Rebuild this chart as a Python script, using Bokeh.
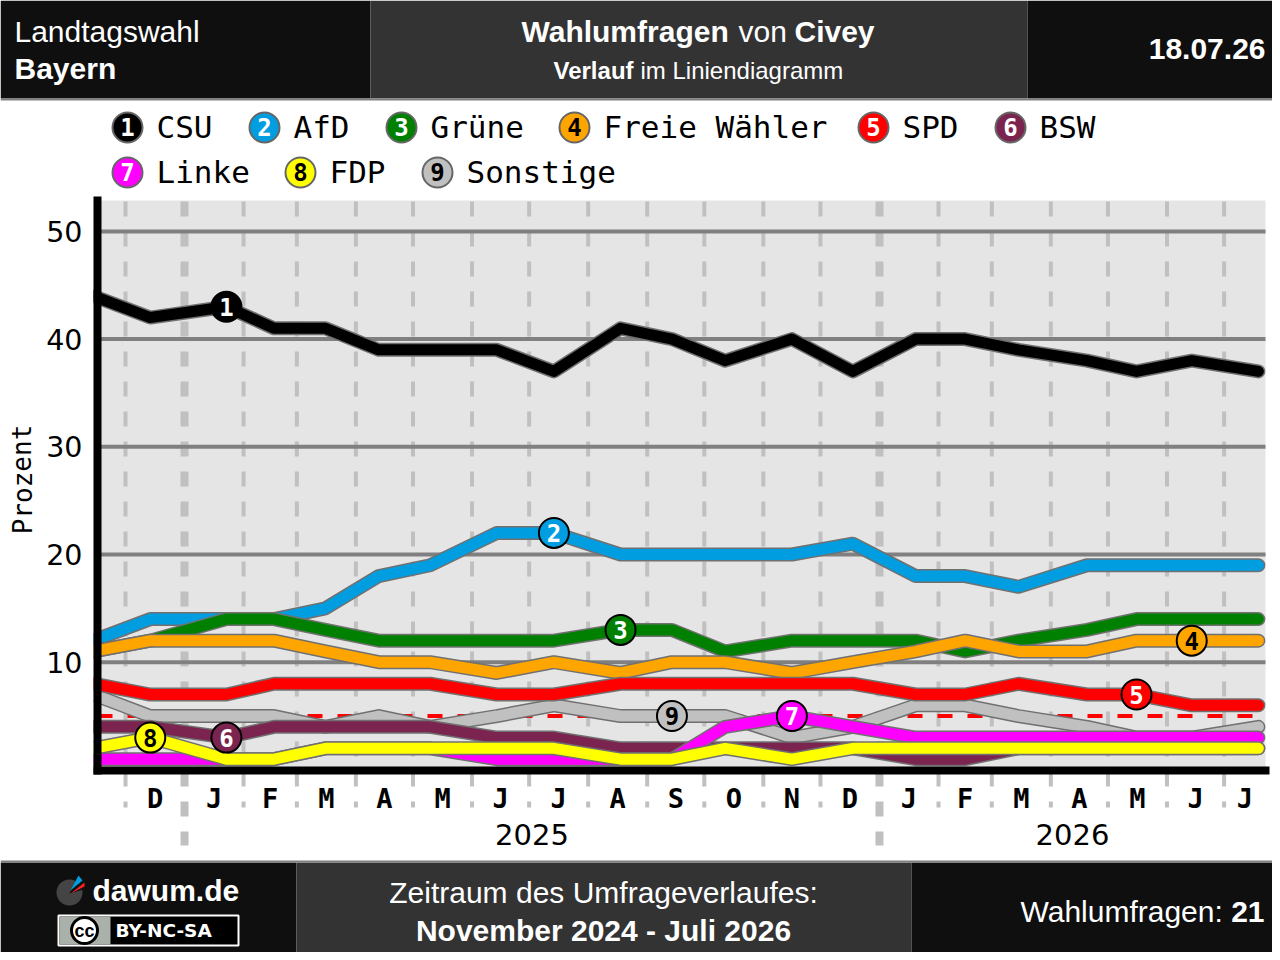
import pandas as pd
from bokeh.core.properties import value
from bokeh.embed import file_html
from bokeh.models import FixedTicker, LinearAxis, Range1d
from bokeh.plotting import figure
from bokeh.resources import INLINE

# ---------- data ----------
poll_dates = ["2024-11-14", "2024-12-14", "2025-01-23", "2025-02-17", "2025-03-16", "2025-04-13", "2025-05-10",
              "2025-06-14", "2025-07-14", "2025-08-18", "2025-09-14", "2025-10-12", "2025-11-16", "2025-12-18",
              "2026-01-20", "2026-02-15", "2026-03-15", "2026-04-20", "2026-05-16", "2026-06-14", "2026-07-19"]
csu =      [44, 42, 43, 41, 41, 39, 39, 39, 37, 41, 40, 38, 40, 37, 40, 40, 39, 38, 37, 38, 37]
afd =      [12, 14, 14, 14, 15, 18, 19, 22, 22, 20, 20, 20, 20, 21, 18, 18, 17, 19, 19, 19, 19]
gruene =   [11, 12, 14, 14, 13, 12, 12, 12, 12, 13, 13, 11, 12, 12, 12, 11, 12, 13, 14, 14, 14]
fw =       [11, 12, 12, 12, 11, 10, 10, 9, 10, 9, 10, 10, 9, 10, 11, 12, 11, 11, 12, 12, 12]
spd =      [8, 7, 7, 8, 8, 8, 8, 7, 7, 8, 8, 8, 8, 8, 7, 7, 8, 7, 7, 6, 6]
bsw =      [4, 4, 3, 4, 4, 4, 4, 3, 3, 2, 2, 2, 2, 2, 1, 1, 2, 2, 2, 2, 2]
linke =    [1, 1, 1, 1, 2, 2, 2, 1, 1, 1, 1, 4, 5, 4, 3, 3, 3, 3, 3, 3, 3]
fdp =      [2, 3, 1, 1, 2, 2, 2, 2, 2, 1, 1, 2, 1, 2, 2, 2, 2, 2, 2, 2, 2]
sonstige = [7, 5, 5, 5, 4, 5, 4, 5, 6, 5, 5, 5, 3, 4, 6, 6, 5, 4, 3, 3, 4]

party_names = ["CSU", "AfD", "Grüne", "Freie Wähler", "SPD", "BSW", "Linke", "FDP", "Sonstige"]
party_values = [csu, afd, gruene, fw, spd, bsw, linke, fdp, sonstige]
party_colors = ["#000000", "#009EE0", "#008000", "#FFA500", "#FF0000", "#7B2450", "#FF00FF", "#FFFF00", "#C0C0C0"]
badge_text = ["white", "white", "white", "black", "white", "white", "white", "black", "black"]
badge_poll = [2, 8, 9, 19, 18, 2, 12, 1, 10]
month_labels = ["D", "J", "F", "M", "A", "M", "J", "J", "A", "S", "O", "N", "D", "J", "F", "M", "A", "M", "J", "J"]
year_labels = ["2025", "2026"]
y_ticks = [10, 20, 30, 40, 50]
threshold = 5

# ---------- layout constants (picture pixels) ----------
W, H = 1272, 952
PAGE_L, PAGE_T = 0, 0
PAGE_R, PAGE_B = PAGE_L + W, PAGE_T + H
MONO = "DejaVu Sans Mono"
SANS = "Liberation Sans"
GREY = "#808080"
DARK = "#0F0F0F"
MID = "#333333"
PX_PER_DAY, PX_DEC1 = 1.904, 125.0
PX_PER_PCT, PX_ZERO = 10.77, 769.4
PLOT_L, PLOT_R, PLOT_T, AXIS_B = 97, 1265, 200, 770

def day(px):
    return (px - PX_DEC1) / PX_PER_DAY

def pct(py):
    return (PX_ZERO - py) / PX_PER_PCT

p = figure(width=W, height=H, output_backend="svg", toolbar_location=None,
           x_range=Range1d(day(PAGE_L), day(PAGE_R)), y_range=Range1d(pct(PAGE_B), pct(PAGE_T)),
           x_axis_location=None, y_axis_location=None, min_border=0, min_border_left=0, min_border_right=0,
           min_border_top=0, min_border_bottom=0, outline_line_color=None,
           background_fill_color="white", border_fill_color="white")
p.grid.visible = False
p.extra_x_ranges["page"] = Range1d(PAGE_L, PAGE_R)
p.extra_y_ranges["page"] = Range1d(PAGE_B, PAGE_T)
PG = dict(x_range_name="page", y_range_name="page")

def txt(x, y, s, size, color="white", bold=False, align="left", font=SANS):
    if align != "right":
        x -= 1
    return p.text([x], [y - 1], text=[s], text_font=value(font), text_font_size=f"{size}px", text_color=color,
                  text_font_style="bold" if bold else "normal", text_align=align, text_baseline="middle", **PG)

# ---------- chart ----------
origin = pd.Timestamp("2024-12-01")
poll_x = [(pd.Timestamp(d) - origin).days for d in poll_dates]
month_start = [(d - origin).days for d in pd.date_range("2024-12-01", "2026-07-01", freq="MS")]
year_start = [(pd.Timestamp(d) - origin).days for d in ("2025-01-01", "2026-01-01")]
plain_months = [m for m in month_start if m not in year_start]
bounds_next = month_start[1:] + [day(PLOT_R)]
month_mid = [(a + b) / 2 for a, b in zip(month_start, bounds_next)]
year_mid = [(year_start[0] + year_start[1]) / 2, (year_start[1] + day(PLOT_R)) / 2]

p.quad(left=[PLOT_L], right=[PLOT_R], bottom=[AXIS_B], top=[PLOT_T], fill_color="#E5E5E5", line_color=None, **PG)
p.segment(x0=plain_months, x1=plain_months, y0=[pct(201)] * len(plain_months), y1=[pct(807)] * len(plain_months),
          line_color="#C0C0C0", line_width=4, line_dash="15 15")
p.segment(x0=year_start, x1=year_start, y0=[pct(201)] * 2, y1=[pct(845)] * 2,
          line_color="#C0C0C0", line_width=8, line_dash="15 15")
p.segment(x0=[day(PLOT_L)] * len(y_ticks), x1=[day(PLOT_R)] * len(y_ticks), y0=y_ticks, y1=y_ticks,
          line_color=GREY, line_width=4)
p.line([day(PLOT_L), day(PLOT_R)], [threshold, threshold], line_color="#FF0000", line_width=4, line_dash="15 15")

order = [8, 0, 1, 2, 3, 4, 5, 6, 7]
for i in order:
    p.line(poll_x, party_values[i], line_color="#707070", line_width=14, line_join="round", line_cap="round")
    p.line(poll_x, party_values[i], line_color=party_colors[i], line_width=11, line_join="round", line_cap="round")
# the first poll lies left of the axis: hide what sticks out
p.quad(left=[78], right=[93], top=[PLOT_T], bottom=[AXIS_B], fill_color="white", line_color=None, **PG)

for i in range(9):
    k = badge_poll[i]
    p.scatter([poll_x[k]], [party_values[i][k]], size=30, fill_color=party_colors[i], line_color="black",
              line_width=2)
    p.text([poll_x[k]], [party_values[i][k]], text=[str(i + 1)], text_font=value(MONO),
           text_font_size="24px", text_font_style="bold", text_color=badge_text[i], text_align="center",
           text_baseline="middle")

p.text(year_mid, [pct(834)] * 2, text=year_labels, text_font=value("DejaVu Sans"), text_font_size="29px",
       text_color="black", text_align="center", text_baseline="middle")
prozent = txt(23, 480, "Prozent", 26, color="black", font=MONO)
prozent.glyph.angle = 1.5708
prozent.glyph.text_align = "center"

xaxis = LinearAxis(fixed_location=pct(AXIS_B), ticker=FixedTicker(ticks=month_mid), bounds=(day(PLOT_L), day(PLOT_R)),
                   major_label_overrides=dict(zip(month_mid, month_labels)),
                   major_tick_line_color=None, minor_tick_line_color=None,
                   major_label_standoff=6, major_label_text_font=MONO, major_label_text_font_style="bold",
                   major_label_text_font_size="27px", major_label_text_color="black",
                   axis_line_color="black", axis_line_width=8, axis_line_cap="square")
p.add_layout(xaxis, "below")

yaxis = LinearAxis(fixed_location=day(PLOT_L), ticker=FixedTicker(ticks=y_ticks), bounds=(pct(AXIS_B), pct(PLOT_T)),
                   major_tick_line_color=None, minor_tick_line_color=None,
                   major_label_standoff=9, major_label_text_font="DejaVu Sans",
                   major_label_text_font_size="28.5px", major_label_text_color="black",
                   axis_line_color="black", axis_line_width=8, axis_line_cap="square")
p.add_layout(yaxis, "left")

# ---------- header ----------
p.quad(left=[PAGE_L, 370, 1027], right=[370, 1027, PAGE_R], top=[PAGE_T] * 3, bottom=[98] * 3,
       fill_color=[DARK, MID, DARK], line_color=None, **PG)
p.quad(left=[PAGE_L], right=[PAGE_R], top=[98], bottom=[100], fill_color=GREY, line_color=None, **PG)
txt(15, 32, "Landtagswahl", 30)
txt(15, 69, "Bayern", 30, bold=True)
txt(522, 32, "Wahlumfragen", 30, bold=True)
txt(739, 32, "von", 30)
txt(795, 32, "Civey", 30, bold=True)
txt(554, 71, "Verlauf", 24, bold=True)
txt(641, 71, "im Liniendiagramm", 24)
txt(1265, 49, "18.07.26", 30, bold=True, align="right")

# ---------- legend ----------
leg_pos = [(127, 127), (264, 127), (401, 127), (574, 127), (873, 127), (1010, 127), (127, 172), (300, 172), (437, 172)]
for i, (lx, ly) in enumerate(leg_pos):
    p.scatter([lx], [ly], size=30, fill_color=party_colors[i], line_color="#666666", line_width=2, **PG)
    txt(lx + 1, ly, str(i + 1), 24, color=badge_text[i], bold=True, align="center", font=MONO)
    txt(lx + 30, ly, party_names[i], 31, color="black", font=MONO)

# ---------- footer ----------
p.quad(left=[PAGE_L, 296, 911], right=[296, 911, PAGE_R], top=[862] * 3, bottom=[PAGE_B] * 3,
       fill_color=[DARK, MID, DARK], line_color=None, **PG)
p.quad(left=[PAGE_L], right=[PAGE_R], top=[860], bottom=[862], fill_color=GREY, line_color=None, **PG)
# logo
p.scatter([69], [892], size=26, fill_color="#444444", line_color=None, **PG)
p.patch([69, 79, 86, 86], [893, 873, 879, 888], fill_color=DARK, line_color=None, **PG)
p.patch([70, 78, 82], [890, 875, 880], fill_color="#009EE0", line_color=None, **PG)
p.patch([70, 84, 84], [893, 882, 886], fill_color="#FF2020", line_color=None, **PG)
txt(93, 891, "dawum.de", 30, bold=True)
p.quad(left=[58], right=[238], top=[915], bottom=[945], fill_color="black", line_color="white", line_width=2, **PG)
p.quad(left=[59], right=[110], top=[916], bottom=[944], fill_color="#AAB0AA", line_color=None, **PG)
p.scatter([84], [930], size=26, fill_color="white", line_color="black", line_width=3, **PG)
txt(85, 931, "cc", 18, color="black", bold=True, align="center")
txt(116, 931, "BY-NC-SA", 18.5, bold=True, font="DejaVu Sans")
txt(604, 893, "Zeitraum des Umfrageverlaufes:", 30, align="center")
txt(604, 931, "November 2024 - Juli 2026", 30, bold=True, align="center")
txt(1021, 912, "Wahlumfragen:", 30)
txt(1264, 912, "21", 30, bold=True, align="right")

open("out.html", "w").write(file_html(p, INLINE))
